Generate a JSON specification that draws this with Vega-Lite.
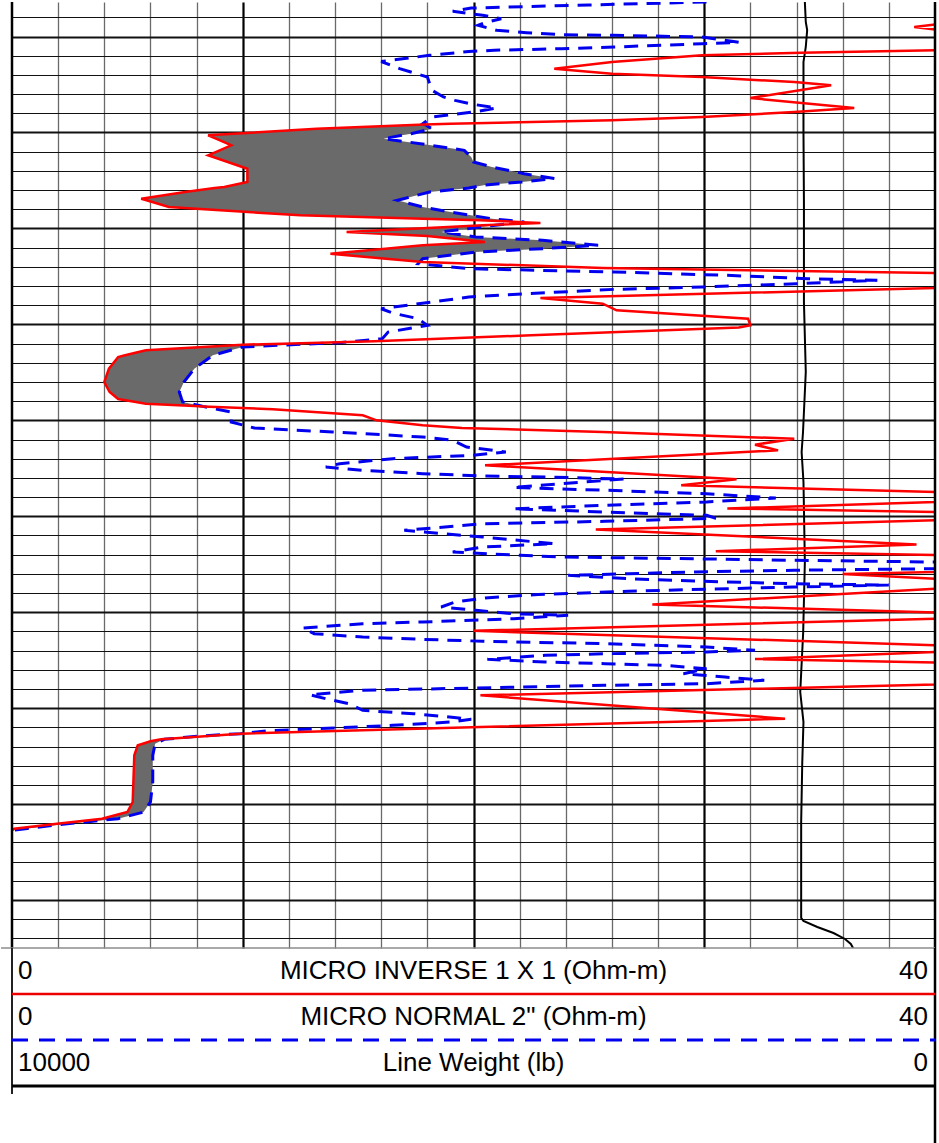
{
  "$schema": "https://vega.github.io/schema/vega-lite/v6.json",
  "background": "white",
  "padding": 0,
  "bounds": "flush",
  "spacing": 0,
  "config": {"view": {"stroke": null}, "axis": {"minExtent": 0}},
  "datasets": {
    "log": [
      {"depth":4996.4,"minv":44},{"depth":4998.48,"minv":44},{"depth":4998.75,"minv":40},{"depth":4999.01,"minv":39.1},{"depth":4999.27,"minv":40},{"depth":4999.63,"minv":44},{"depth":5001.09,"minv":44},{"depth":5001.43,"minv":40},{"depth":5001.68,"minv":34.2},{"depth":5001.96,"minv":29.9},{"depth":5002.65,"minv":26.0},{"depth":5003.35,"minv":23.5},{"depth":5003.87,"minv":26.0},{"depth":5004.22,"minv":29.9},{"depth":5004.74,"minv":33.9},{"depth":5005.08,"minv":35.5},{"depth":5006.41,"minv":32.0},{"depth":5007.45,"minv":36.5},{"depth":5007.87,"minv":33.9},{"depth":5008.39,"minv":29.9},{"depth":5008.73,"minv":26.0},{"depth":5009.09,"minv":19.0},
      {"depth":4996.4,"mnor":30.1},{"depth":4996.71,"mnor":25},{"depth":4997.03,"mnor":19.9},{"depth":4997.37,"mnor":19.1},{"depth":4997.79,"mnor":20.4},{"depth":4998.14,"mnor":21.2},{"depth":4998.48,"mnor":20.6},{"depth":4998.83,"mnor":20.2},{"depth":4999.35,"mnor":21.0},{"depth":4999.6,"mnor":22.3},{"depth":4999.81,"mnor":23.8},{"depth":4999.87,"mnor":26.1},{"depth":5000.05,"mnor":29.9},{"depth":5000.6,"mnor":31.5},{"depth":5000.75,"mnor":29.9},{"depth":5001.09,"mnor":26.1},{"depth":5001.27,"mnor":23.8},{"depth":5001.43,"mnor":20.9},{"depth":5001.56,"mnor":19.8},{"depth":5001.96,"mnor":18.1},{"depth":5002.6,"mnor":16.0},{"depth":5003.35,"mnor":16.8},{"depth":5004.22,"mnor":18.0},{"depth":5005.6,"mnor":18.2},{"depth":5006.3,"mnor":18.7},{"depth":5006.65,"mnor":19.2},{"depth":5007.03,"mnor":19.9},{"depth":5007.45,"mnor":21.0},{"depth":5007.87,"mnor":20.0},{"depth":5008.39,"mnor":18.2},{"depth":5009.09,"mnor":17.8},
      {"depth":5009.17,"minv":17.9,"mnor":17.9},{"depth":5009.61,"minv":13.2,"mnor":18.2},{"depth":5010.13,"minv":9.6,"mnor":17.3},{"depth":5010.29,"minv":8.5,"mnor":16.9},{"depth":5010.65,"minv":8.84,"mnor":16.1},{"depth":5011.17,"minv":9.34,"mnor":17.7},{"depth":5011.34,"minv":9.5,"mnor":18.16},{"depth":5011.86,"minv":9.0,"mnor":19.6},{"depth":5012.38,"minv":8.5,"mnor":19.82},{"depth":5012.56,"minv":8.72,"mnor":19.9},{"depth":5013.08,"minv":9.35,"mnor":20.0},{"depth":5013.6,"minv":9.98,"mnor":20.8},{"depth":5013.78,"minv":10.2,"mnor":21.16},{"depth":5014.3,"minv":10.2,"mnor":22.2},{"depth":5014.8,"minv":10.2,"mnor":23.5},{"depth":5015.16,"minv":10.2,"mnor":22.1},{"depth":5015.47,"minv":9.6,"mnor":20.5},{"depth":5015.68,"minv":9.2,"mnor":20.03},{"depth":5015.79,"minv":8.78,"mnor":19.8},{"depth":5016.2,"minv":7.5,"mnor":18.1},{"depth":5016.9,"minv":5.6,"mnor":16.97},{"depth":5017.07,"minv":5.83,"mnor":16.7},{"depth":5017.77,"minv":6.8,"mnor":17.8},{"depth":5018.29,"minv":10.23,"mnor":19.0},{"depth":5018.63,"minv":12.5,"mnor":19.89},{"depth":5018.99,"minv":17.8,"mnor":20.8},{"depth":5019.15,"minv":20.3,"mnor":21.48},{"depth":5019.33,"minv":21.94,"mnor":22.2},{"depth":5019.35,"minv":22.13,"mnor":22.13},{"depth":5019.44,"minv":22.9,"mnor":21.82},{"depth":5019.59,"minv":21.24,"mnor":21.24},{"depth":5019.67,"minv":20.4,"mnor":20.95},{"depth":5019.85,"minv":18.9,"mnor":20.3},{"depth":5020.37,"minv":14.5,"mnor":18.6},{"depth":5020.79,"minv":18.0,"mnor":19.8},{"depth":5020.89,"minv":18.42,"mnor":20.1},{"depth":5021.24,"minv":19.79,"mnor":23.0},{"depth":5021.42,"minv":20.5,"mnor":23.82},{"depth":5021.76,"minv":17.8,"mnor":25.4},{"depth":5022.11,"minv":16.18,"mnor":23.0},{"depth":5022.46,"minv":14.61,"mnor":20.1},{"depth":5022.63,"minv":13.8,"mnor":19.52},{"depth":5023.16,"minv":16.21,"mnor":17.8},{"depth":5023.47,"minv":17.68,"mnor":17.68},
      {"depth":5023.5,"minv":17.8},{"depth":5024.13,"minv":25.6},{"depth":5024.65,"minv":40},{"depth":5025.43,"minv":44},{"depth":5026.21,"minv":40},{"depth":5027.25,"minv":22.9},{"depth":5027.85,"minv":25.6},{"depth":5028.53,"minv":26.2},{"depth":5029.41,"minv":31.9},{"depth":5030.1,"minv":32.0},{"depth":5030.33,"minv":31.5},{"depth":5031.14,"minv":22.5},{"depth":5031.77,"minv":15.7},
      {"depth":5023.68,"mnor":17.6},{"depth":5024.2,"mnor":19.8},{"depth":5024.54,"mnor":26.1},{"depth":5024.89,"mnor":31.0},{"depth":5025.24,"mnor":34.5},{"depth":5025.41,"mnor":37.5},{"depth":5025.76,"mnor":34.0},{"depth":5026.11,"mnor":29.9},{"depth":5026.35,"mnor":26.1},{"depth":5026.8,"mnor":22.3},{"depth":5027.15,"mnor":19.8},{"depth":5027.67,"mnor":18.2},{"depth":5028.37,"mnor":16.0},{"depth":5028.82,"mnor":16.5},{"depth":5029.41,"mnor":17.6},{"depth":5030.1,"mnor":18.0},{"depth":5030.8,"mnor":16.3},{"depth":5031.49,"mnor":16.05},
      {"depth":5031.84,"minv":14.53,"mnor":14.53},{"depth":5031.91,"minv":13.35,"mnor":14.2},{"depth":5032.12,"minv":10.0,"mnor":12.1},{"depth":5032.36,"minv":8.28,"mnor":10.0},{"depth":5032.7,"minv":5.8,"mnor":9.48},{"depth":5033.22,"minv":4.9,"mnor":8.7},{"depth":5033.4,"minv":4.6,"mnor":8.6},{"depth":5034.62,"minv":4.2,"mnor":7.9},{"depth":5036.01,"minv":4.0,"mnor":7.45},{"depth":5037.05,"minv":4.23,"mnor":7.25},{"depth":5037.78,"minv":4.6,"mnor":7.35},{"depth":5038.09,"minv":5.37,"mnor":7.4},{"depth":5038.27,"minv":5.8,"mnor":7.74},{"depth":5038.51,"minv":7.9,"mnor":8.2},{"depth":5038.55,"minv":8.27,"mnor":8.27},
      {"depth":5038.85,"minv":11.3},{"depth":5039.48,"minv":15.2},{"depth":5040.0,"minv":15.8},{"depth":5040.52,"minv":17.8},{"depth":5040.8,"minv":19.5},{"depth":5041.22,"minv":25.6},{"depth":5041.92,"minv":33.9},{"depth":5042.54,"minv":32.2},{"depth":5043.13,"minv":33.2},{"depth":5044.69,"minv":20.5},{"depth":5046.15,"minv":31.4},{"depth":5046.77,"minv":29.0},{"depth":5047.47,"minv":40},{"depth":5047.99,"minv":44},{"depth":5048.51,"minv":40},{"depth":5049.19,"minv":31.0},{"depth":5049.56,"minv":40},{"depth":5049.97,"minv":44},{"depth":5050.42,"minv":40},{"depth":5051.38,"minv":25.3},{"depth":5052.94,"minv":39.2},{"depth":5053.64,"minv":30.5},{"depth":5054.04,"minv":40},{"depth":5054.92,"minv":44},{"depth":5055.81,"minv":40},{"depth":5056.02,"minv":36.0},{"depth":5056.51,"minv":40},{"depth":5057.03,"minv":44},{"depth":5057.55,"minv":40},{"depth":5059.2,"minv":27.75},{"depth":5060.03,"minv":40},{"depth":5060.35,"minv":44},{"depth":5060.68,"minv":40},{"depth":5061.94,"minv":20.0},{"depth":5063.45,"minv":40},{"depth":5063.8,"minv":44},{"depth":5064.15,"minv":40},{"depth":5064.88,"minv":32.2},{"depth":5065.24,"minv":40},{"depth":5066.39,"minv":44},{"depth":5067.54,"minv":40},{"depth":5068.66,"minv":20.3},{"depth":5071.1,"minv":33.5},{"depth":5071.34,"minv":30.0},{"depth":5071.97,"minv":20.3},{"depth":5072.66,"minv":9.9},{"depth":5072.9,"minv":8.5},
      {"depth":5038.61,"mnor":8.4},{"depth":5039.13,"mnor":9.5},{"depth":5040.18,"mnor":9.5},{"depth":5040.8,"mnor":10.5},{"depth":5041.22,"mnor":13.9},{"depth":5041.74,"mnor":17.8},{"depth":5042.08,"mnor":19.1},{"depth":5042.78,"mnor":19.7},{"depth":5043.3,"mnor":21.4},{"depth":5043.65,"mnor":19.9},{"depth":5044.0,"mnor":16.5},{"depth":5044.52,"mnor":14.2},{"depth":5044.87,"mnor":13.6},{"depth":5045.21,"mnor":15.2},{"depth":5045.56,"mnor":17.8},{"depth":5045.8,"mnor":20.4},{"depth":5045.91,"mnor":23.1},{"depth":5046.12,"mnor":26.5},{"depth":5046.61,"mnor":23.8},{"depth":5047.0,"mnor":21.7},{"depth":5047.29,"mnor":25.7},{"depth":5047.65,"mnor":30.1},{"depth":5048.1,"mnor":33.1},{"depth":5048.51,"mnor":30.1},{"depth":5048.86,"mnor":25.7},{"depth":5049.22,"mnor":21.7},{"depth":5049.56,"mnor":25.7},{"depth":5049.9,"mnor":30.1},{"depth":5050.21,"mnor":30.5},{"depth":5050.53,"mnor":25.7},{"depth":5050.78,"mnor":20.4},{"depth":5051.47,"mnor":17.0},{"depth":5051.64,"mnor":17.8},{"depth":5052.16,"mnor":20.4},{"depth":5052.86,"mnor":23.5},{"depth":5053.21,"mnor":20.4},{"depth":5053.73,"mnor":19.1},{"depth":5054.07,"mnor":22.0},{"depth":5054.25,"mnor":23.8},{"depth":5054.43,"mnor":29.6},{"depth":5054.59,"mnor":33.9},{"depth":5054.77,"mnor":40},{"depth":5055.08,"mnor":44},{"depth":5055.47,"mnor":40},{"depth":5055.63,"mnor":33.9},{"depth":5055.81,"mnor":29.6},{"depth":5055.99,"mnor":26.7},{"depth":5056.16,"mnor":24.1},{"depth":5056.51,"mnor":26.7},{"depth":5056.85,"mnor":31.0},{"depth":5057.03,"mnor":33.9},{"depth":5057.17,"mnor":38.0},{"depth":5057.37,"mnor":33.9},{"depth":5057.55,"mnor":31.0},{"depth":5057.82,"mnor":26.7},{"depth":5058.16,"mnor":22.8},{"depth":5058.52,"mnor":20.5},{"depth":5058.94,"mnor":19.2},{"depth":5059.46,"mnor":18.6},{"depth":5059.8,"mnor":20.1},{"depth":5060.16,"mnor":21.75},{"depth":5060.32,"mnor":24.1},{"depth":5060.68,"mnor":21.75},{"depth":5061.02,"mnor":17.8},{"depth":5061.2,"mnor":15.2},{"depth":5061.65,"mnor":12.6},{"depth":5062.24,"mnor":13.1},{"depth":5062.59,"mnor":15.2},{"depth":5062.83,"mnor":17.8},{"depth":5063.03,"mnor":20.4},{"depth":5063.28,"mnor":25.7},{"depth":5063.63,"mnor":30.1},{"depth":5063.97,"mnor":32.2},{"depth":5064.15,"mnor":30.1},{"depth":5064.33,"mnor":25.7},{"depth":5064.49,"mnor":23.1},{"depth":5064.91,"mnor":20.6},{"depth":5065.19,"mnor":23.1},{"depth":5065.37,"mnor":25.7},{"depth":5065.54,"mnor":28.3},{"depth":5065.89,"mnor":30.1},{"depth":5066.41,"mnor":29.1},{"depth":5066.76,"mnor":30.9},{"depth":5067.1,"mnor":32.6},{"depth":5067.45,"mnor":30.1},{"depth":5067.62,"mnor":25.7},{"depth":5067.9,"mnor":20.1},{"depth":5068.14,"mnor":15.2},{"depth":5068.6,"mnor":12.9},{"depth":5069.02,"mnor":13.6},{"depth":5069.54,"mnor":14.6},{"depth":5070.23,"mnor":15.2},{"depth":5070.58,"mnor":17.4},{"depth":5070.82,"mnor":18.5},{"depth":5071.16,"mnor":19.9},{"depth":5071.45,"mnor":19.0},{"depth":5071.79,"mnor":16.5},{"depth":5072.07,"mnor":14.0},{"depth":5072.38,"mnor":11.0},{"depth":5072.66,"mnor":9.9},{"depth":5072.9,"mnor":8.2},
      {"depth":5073.14,"minv":7.1,"mnor":7.1},{"depth":5073.25,"minv":6.46,"mnor":6.6},{"depth":5073.46,"minv":6.0,"mnor":6.42},{"depth":5073.71,"minv":5.67,"mnor":6.2},{"depth":5073.87,"minv":5.45,"mnor":6.19},{"depth":5074.92,"minv":5.3,"mnor":6.1},{"depth":5077.7,"minv":5.26,"mnor":6.1},{"depth":5079.78,"minv":5.23,"mnor":6.0},{"depth":5080.83,"minv":5.0,"mnor":5.7},{"depth":5081.52,"minv":3.9,"mnor":4.6},{"depth":5082.05,"minv":1.95,"mnor":2.4},{"depth":5082.57,"minv":0.1,"mnor":0.58},{"depth":5082.73,"minv":0,"mnor":0},
      {"depth":4996.4,"lwt":1410},{"depth":4998.48,"lwt":1400},{"depth":4999.32,"lwt":1385},{"depth":5001.09,"lwt":1400},{"depth":5002.65,"lwt":1425},{"depth":5009.95,"lwt":1425},{"depth":5017.25,"lwt":1420},{"depth":5027.67,"lwt":1420},{"depth":5034.97,"lwt":1400},{"depth":5041.22,"lwt":1430},{"depth":5043.3,"lwt":1445},{"depth":5046.43,"lwt":1425},{"depth":5054.77,"lwt":1410},{"depth":5062.06,"lwt":1428},{"depth":5068.32,"lwt":1460},{"depth":5071.45,"lwt":1425},{"depth":5075.61,"lwt":1438},{"depth":5081.87,"lwt":1450},{"depth":5091.87,"lwt":1450},{"depth":5092.19,"lwt":1425},{"depth":5092.81,"lwt":1275},{"depth":5093.44,"lwt":1100},{"depth":5094.06,"lwt":975},{"depth":5094.58,"lwt":912},{"depth":5095.0,"lwt":888},{"depth":5095.4,"lwt":870}
    ],
    "legend": [
      {"row": 1, "lo": "0", "name": "MICRO INVERSE 1 X 1 (Ohm-m)", "hi": "40"},
      {"row": 2, "lo": "0", "name": "MICRO NORMAL 2\" (Ohm-m)", "hi": "40"},
      {"row": 3, "lo": "10000", "name": "Line Weight (lb)", "hi": "0"}
    ]
  },
  "vconcat": [
    {
      "width": 923,
      "height": 946,
      "data": {"name": "log"},
      "resolve": {"scale": {"x": "independent"}},
      "layer": [
        {
          "transform": [{"filter": "isValid(datum.minv) && isValid(datum.mnor) && datum.minv <= datum.mnor"}],
          "mark": {"type": "area", "orient": "horizontal", "color": "#6a6a6a", "opacity": 1, "clip": true},
          "encoding": {
            "y": {
              "field": "depth", "type": "quantitative",
              "scale": {"domain": [4996.4, 5095], "reverse": true, "nice": false, "zero": false},
              "axis": {
                "values": [4998,5000,5002,5004,5006,5008,5010,5012,5014,5016,5018,5020,5022,5024,5026,5028,5030,5032,5034,5036,5038,5040,5042,5044,5046,5048,5050,5052,5054,5056,5058,5060,5062,5064,5066,5068,5070,5072,5074,5076,5078,5080,5082,5084,5086,5088,5090,5092,5094],
                "tickCount": 500,
                "grid": true, "labels": false, "ticks": false, "domain": false, "title": null, "minExtent": 0,
                "gridColor": "#111111", "gridOpacity": 1,
                "gridWidth": {"condition": {"test": "datum.value % 10 === 0", "value": 2.2}, "value": 1}
              }
            },
            "x": {
              "field": "minv", "type": "quantitative",
              "scale": {"domain": [0, 40], "nice": false, "zero": false},
              "axis": {
                "values": [2,4,6,8,10,12,14,16,18,20,22,24,26,28,30,32,34,36,38],
                "tickCount": 500,
                "grid": true, "labels": false, "ticks": false, "domain": false, "title": null, "minExtent": 0, "gridOpacity": 1,
                "gridColor": {"condition": {"test": "datum.value % 10 === 0", "value": "#000000"}, "value": "#6a6a6a"},
                "gridWidth": {"condition": {"test": "datum.value % 10 === 0", "value": 2.2}, "value": 1.3}
              }
            },
            "x2": {"field": "mnor"}
          }
        },
        {
          "transform": [{"filter": "isValid(datum.lwt)"}],
          "mark": {"type": "line", "color": "#000000", "strokeWidth": 2, "clip": true},
          "encoding": {
            "y": {"field": "depth", "type": "quantitative"},
            "x": {"field": "lwt", "type": "quantitative", "scale": {"domain": [0, 10000], "reverse": true, "nice": false, "zero": false}, "axis": null},
            "order": {"field": "depth", "type": "quantitative"}
          }
        },
        {
          "transform": [{"filter": "isValid(datum.mnor)"}],
          "mark": {"type": "line", "color": "#0000ee", "strokeWidth": 3, "strokeDash": [14, 9], "clip": true},
          "encoding": {
            "y": {"field": "depth", "type": "quantitative"},
            "x": {"field": "mnor", "type": "quantitative", "scale": {"domain": [0, 40], "nice": false, "zero": false}, "axis": null},
            "order": {"field": "depth", "type": "quantitative"}
          }
        },
        {
          "transform": [{"filter": "isValid(datum.minv)"}],
          "mark": {"type": "line", "color": "#ff0000", "strokeWidth": 2.5, "clip": true},
          "encoding": {
            "y": {"field": "depth", "type": "quantitative"},
            "x": {"field": "minv", "type": "quantitative", "scale": {"domain": [0, 40], "nice": false, "zero": false}, "axis": null},
            "order": {"field": "depth", "type": "quantitative"}
          }
        },
        {
          "data": {"values": [{}]},
          "mark": {"type": "rule", "color": "#000000", "strokeWidth": 2.5},
          "encoding": {"x": {"datum": 0, "type": "quantitative", "scale": {"domain": [0, 40], "nice": false, "zero": false}, "axis": null}}
        },
        {
          "data": {"values": [{}]},
          "mark": {"type": "rule", "color": "#000000", "strokeWidth": 2.5},
          "encoding": {"x": {"datum": 40, "type": "quantitative", "scale": {"domain": [0, 40], "nice": false, "zero": false}, "axis": null}}
        }
      ]
    },
    {
      "width": 923,
      "height": 197,
      "data": {"name": "legend"},
      "layer": [
        {
          "data": {"values": [{}]},
          "mark": {"type": "rule", "color": "#8c8c8c", "strokeWidth": 1.5},
          "encoding": {
            "x": {"datum": -0.0119, "type": "quantitative", "scale": {"domain": [0, 1], "nice": false, "zero": false}, "axis": null},
            "x2": {"datum": 1},
            "y": {"datum": 0, "type": "quantitative", "scale": {"domain": [0, 4.2826], "reverse": true, "nice": false, "zero": false}, "axis": null}
          }
        },
        {
          "data": {"values": [{}]},
          "mark": {"type": "rule", "color": "#222222", "strokeWidth": 2},
          "encoding": {
            "x": {"datum": 0, "type": "quantitative"},
            "y": {"datum": 0, "type": "quantitative"},
            "y2": {"datum": 3.174}
          }
        },
        {
          "data": {"values": [{}]},
          "mark": {"type": "rule", "color": "#000000", "strokeWidth": 2.5},
          "encoding": {
            "x": {"datum": 1, "type": "quantitative"},
            "y": {"datum": 0, "type": "quantitative"},
            "y2": {"datum": 4.2826}
          }
        },
        {
          "transform": [{"filter": "datum.row === 1"}],
          "mark": {"type": "rule", "color": "#ee0000", "strokeWidth": 2.5},
          "encoding": {
            "x": {"datum": 0, "type": "quantitative"},
            "x2": {"datum": 1},
            "y": {"field": "row", "type": "quantitative"}
          }
        },
        {
          "transform": [{"filter": "datum.row === 2"}],
          "mark": {"type": "rule", "color": "#0000ee", "strokeWidth": 3, "strokeDash": [16, 11]},
          "encoding": {
            "x": {"datum": 0, "type": "quantitative"},
            "x2": {"datum": 1},
            "y": {"field": "row", "type": "quantitative"}
          }
        },
        {
          "transform": [{"filter": "datum.row === 3"}],
          "mark": {"type": "rule", "color": "#000000", "strokeWidth": 3},
          "encoding": {
            "x": {"datum": 0, "type": "quantitative"},
            "x2": {"datum": 1},
            "y": {"field": "row", "type": "quantitative"}
          }
        },
        {
          "mark": {"type": "text", "align": "left", "baseline": "middle", "dx": 6, "dy": -23, "font": "Liberation Sans", "fontSize": 26, "color": "#000000"},
          "encoding": {
            "x": {"datum": 0, "type": "quantitative"},
            "y": {"field": "row", "type": "quantitative"},
            "text": {"field": "lo"}
          }
        },
        {
          "mark": {"type": "text", "align": "center", "baseline": "middle", "dy": -23, "font": "Liberation Sans", "fontSize": 26, "color": "#000000"},
          "encoding": {
            "x": {"datum": 0.5, "type": "quantitative"},
            "y": {"field": "row", "type": "quantitative"},
            "text": {"field": "name"}
          }
        },
        {
          "mark": {"type": "text", "align": "right", "baseline": "middle", "dx": -7, "dy": -23, "font": "Liberation Sans", "fontSize": 26, "color": "#000000"},
          "encoding": {
            "x": {"datum": 1, "type": "quantitative"},
            "y": {"field": "row", "type": "quantitative"},
            "text": {"field": "hi"}
          }
        }
      ]
    }
  ]
}
